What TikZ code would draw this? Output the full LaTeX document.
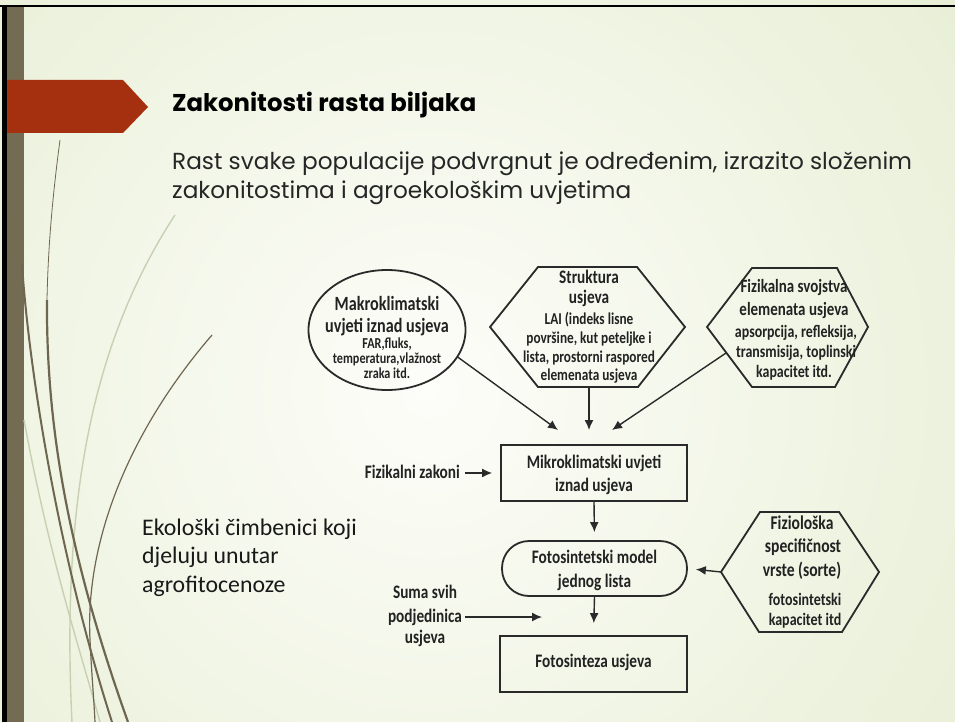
\documentclass[tikz,border=0pt]{standalone}
\usepackage{fontspec}
\usetikzlibrary{shapes.geometric,arrows.meta}
\newfontfamily\popp{Poppins}
\newfontfamily\carl{Carlito}
\newfontfamily\dfont{Carlito}[FakeStretch=0.8]
\newcommand\fsz[1]{\fontsize{#1}{#1}\selectfont}
\definecolor{bgA}{HTML}{FDFDF9}
\definecolor{bgB}{HTML}{F2F6E7}
\definecolor{bgC}{HTML}{E3EBCD}
\definecolor{bgD}{HTML}{D5E0B5}
\definecolor{olive}{HTML}{736C53}
\definecolor{curve}{HTML}{6E6650}
\definecolor{faint}{HTML}{C8D0B2}
\definecolor{banner}{HTML}{A5300F}
\definecolor{dline}{HTML}{2A2A2A}
\definecolor{dtext}{HTML}{222222}
\pgfdeclareradialshading{bgshade}{\pgfpoint{0bp}{0bp}}{color(0bp)=(bgA); color(12bp)=(bgB); color(30bp)=(bgC); color(45bp)=(bgD); color(50bp)=(bgD)}
\tikzset{
  dl/.style={inner sep=0pt, anchor=base, text=dtext},
  bigt/.style={dl, font=\dfont\bfseries\fsz{19.1}},
  shapeline/.style={draw=dline, line width=1.8pt},
  arr/.style={-{Latex[length=10pt,width=9pt]}, line width=1.4pt, draw=dline},
}
\begin{document}
\begin{tikzpicture}[x=1pt,y=-1pt]
\useasboundingbox (0,0) rectangle (955,722);
% background
\begin{scope}
\clip (0,0) rectangle (955,722);
\shade[shading=bgshade] (430,390) circle (700);
\end{scope}
% frame
\fill[black] (0,5) rectangle (955,7.5);
\fill[black] (2,5) rectangle (7,722);
\fill[olive] (7,7.5) rectangle (24,722);
% decorative curves
\draw[faint, line width=1.4pt] (175,215) .. controls (100,330) and (60,480) .. (72,722);
\draw[faint, line width=1.4pt] (24,420) .. controls (50,560) and (80,650) .. (100,722);
\draw[curve, line width=2pt] (22,265) .. controls (30,380) and (60,560) .. (112,722);
\draw[curve, line width=0.8pt] (60,140) .. controls (52,200) and (48,250) .. (47,300);
\draw[curve, line width=2.2pt] (47,300) .. controls (46,430) and (70,560) .. (128,722);
\draw[curve, line width=1.2pt] (212,335) .. controls (130,430) and (85,540) .. (90,640) .. controls (92,680) and (94,700) .. (95,722);
% banner
\fill[banner] (7,80) -- (123,80) -- (148,107) -- (123,133) -- (7,133) -- cycle;
% title and body
\node[anchor=base west, inner sep=0pt, font=\popp\bfseries\fsz{24.3}, text=black] (title) at (172,112) {Zakonitosti rasta biljaka};
\node[anchor=base west, inner sep=0pt, font=\popp\fsz{23.2}, text=black!85] (body1) at (172,170) {Rast svake populacije podvrgnut je određenim, izrazito složenim};
\node[anchor=base west, inner sep=0pt, font=\popp\fsz{23.2}, text=black!85] (body2) at (172,199) {zakonitostima i agroekološkim uvjetima};
% left text
\node[anchor=base west, inner sep=0pt, font=\carl\fsz{23.8}, text=black!90] (eko1) at (142,535) {Ekološki čimbenici koji};
\node[anchor=base west, inner sep=0pt, font=\carl\fsz{23.8}, text=black!90] (eko2) at (142,563) {djeluju unutar};
\node[anchor=base west, inner sep=0pt, font=\carl\fsz{23.8}, text=black!90] (eko3) at (142,592) {agrofitocenoze};

% ---- Makro ellipse
\node[ellipse, shapeline, minimum width=157, minimum height=120, inner sep=0pt] (makro) at (387,330) {};
\node[dl, font=\dfont\bfseries\fsz{20.2}] (mk1) at (387,310) {Makroklimatski};
\node[dl, font=\dfont\bfseries\fsz{20.2}] (mk2) at (387,332) {uvjeti iznad usjeva};
\node[dl, font=\dfont\bfseries\fsz{15.2}] (mk3) at (387,348) {FAR,fluks,};
\node[dl, font=\dfont\bfseries\fsz{15.2}] (mk4) at (387,363) {temperatura,vlažnost};
\node[dl, font=\dfont\bfseries\fsz{15.2}] (mk5) at (387,378) {zraka itd.};

% ---- Struktura hexagon
\coordinate (sL) at (490,327); \coordinate (sTL) at (538,267); \coordinate (sTR) at (637,267);
\coordinate (sR) at (685,327); \coordinate (sBR) at (638,387); \coordinate (sBL) at (538,387);
\coordinate (sB) at (589,387);
\draw[shapeline, line join=miter] (sL) -- (sTL) -- (sTR) -- (sR) -- (sBR) -- (sBL) -- cycle;
\node[dl, font=\dfont\bfseries\fsz{19.1}] (st1) at (589,283) {Struktura};
\node[dl, font=\dfont\bfseries\fsz{19.1}] (st2) at (589,303) {usjeva};
\node[dl, font=\dfont\bfseries\fsz{16.6}] (st3) at (589,324) {LAI (indeks lisne};
\node[dl, font=\dfont\bfseries\fsz{16.6}] (st4) at (589,343) {površine, kut peteljke i};
\node[dl, font=\dfont\bfseries\fsz{16.6}] (st5) at (589,362) {lista, prostorni raspored};
\node[dl, font=\dfont\bfseries\fsz{16.6}] (st6) at (589,380) {elemenata usjeva};

% ---- Fizikalna hexagon
\coordinate (fL) at (707,327); \coordinate (fTL) at (752,268); \coordinate (fTR) at (837,268);
\coordinate (fR) at (868,327); \coordinate (fBR) at (835,387); \coordinate (fBL) at (752,387);
\coordinate (fS) at (726,353);
\draw[shapeline, line join=miter] (fL) -- (fTL) -- (fTR) -- (fR) -- (fBR) -- (fBL) -- cycle;
\node[dl, font=\dfont\bfseries\fsz{18.7}] (fk1) at (794,292) {Fizikalna svojstva};
\node[dl, font=\dfont\bfseries\fsz{18.7}] (fk2) at (794,315) {elemenata usjeva};
\node[dl, font=\dfont\bfseries\fsz{17.4}] (fk3) at (796,337) {apsorpcija, refleksija,};
\node[dl, font=\dfont\bfseries\fsz{17.4}] (fk4) at (796,357) {transmisija, toplinski};
\node[dl, font=\dfont\bfseries\fsz{17.4}] (fk5) at (794,377) {kapacitet itd.};

% ---- Mikro rectangle
\node[rectangle, shapeline, minimum width=186, minimum height=56, inner sep=0pt] (mikro) at (594,473) {};
\node[bigt] (mi1) at (594,468) {Mikroklimatski uvjeti};
\node[bigt] (mi2) at (594,491) {iznad usjeva};

% ---- Fizikalni zakoni
\node[bigt, anchor=base east] (fz) at (460,478) {Fizikalni zakoni};

% ---- stadium
\node[rectangle, rounded corners=27pt, shapeline, minimum width=185, minimum height=55, inner sep=0pt] (model) at (594.5,568.5) {};
\node[bigt] (mo1) at (594.5,563) {Fotosintetski model};
\node[bigt] (mo2) at (594.5,587) {jednog lista};

% ---- Fotosinteza rectangle
\node[rectangle, shapeline, minimum width=187, minimum height=56, inner sep=0pt] (foto) at (593.5,664) {};
\node[bigt] (fo1) at (593.5,667) {Fotosinteza usjeva};

% ---- Suma svih
\node[bigt] (su1) at (425,598) {Suma svih};
\node[bigt] (su2) at (425,622) {podjedinica};
\node[bigt] (su3) at (425,643) {usjeva};
\coordinate (suE) at (542,617);

% ---- Fizioloska hexagon
\coordinate (gL) at (721,572); \coordinate (gTL) at (760,512); \coordinate (gTR) at (839,512);
\coordinate (gR) at (879,572); \coordinate (gBR) at (842,632); \coordinate (gBL) at (759,632);
\draw[shapeline, line join=miter] (gL) -- (gTL) -- (gTR) -- (gR) -- (gBR) -- (gBL) -- cycle;
\node[dl, font=\dfont\bfseries\fsz{19.5}] (gz1) at (802,529) {Fiziološka};
\node[dl, font=\dfont\bfseries\fsz{19.5}] (gz2) at (803,552) {specifičnost};
\node[dl, font=\dfont\bfseries\fsz{19.5}] (gz3) at (802,576) {vrste (sorte)};
\node[dl, font=\dfont\bfseries\fsz{17.5}] (gz4) at (805,605) {fotosintetski};
\node[dl, font=\dfont\bfseries\fsz{17.5}] (gz5) at (805,625) {kapacitet itd};

% ---- connectors
\coordinate (t1) at (558,430);
\coordinate (t2) at (589,430);
\coordinate (t3) at (612,430);
\draw[arr] (makro.-21) -- (t1);
\draw[arr] (sB) -- (t2);
\draw[arr] (fS) -- (t3);
\draw[arr, shorten <=5pt, shorten >=8pt] (fz.east |- mikro.west) -- (mikro.west);
\draw[arr, shorten >=8pt] (mikro.south) -- (model.north);
\draw[arr, shorten >=12pt] (model.south) -- (foto.north);
\draw[arr, shorten >=8pt] (gL) -- (model.east);
\draw[arr, shorten <=3pt] (su2.east |- suE) -- (suE);
\end{tikzpicture}
\end{document}
